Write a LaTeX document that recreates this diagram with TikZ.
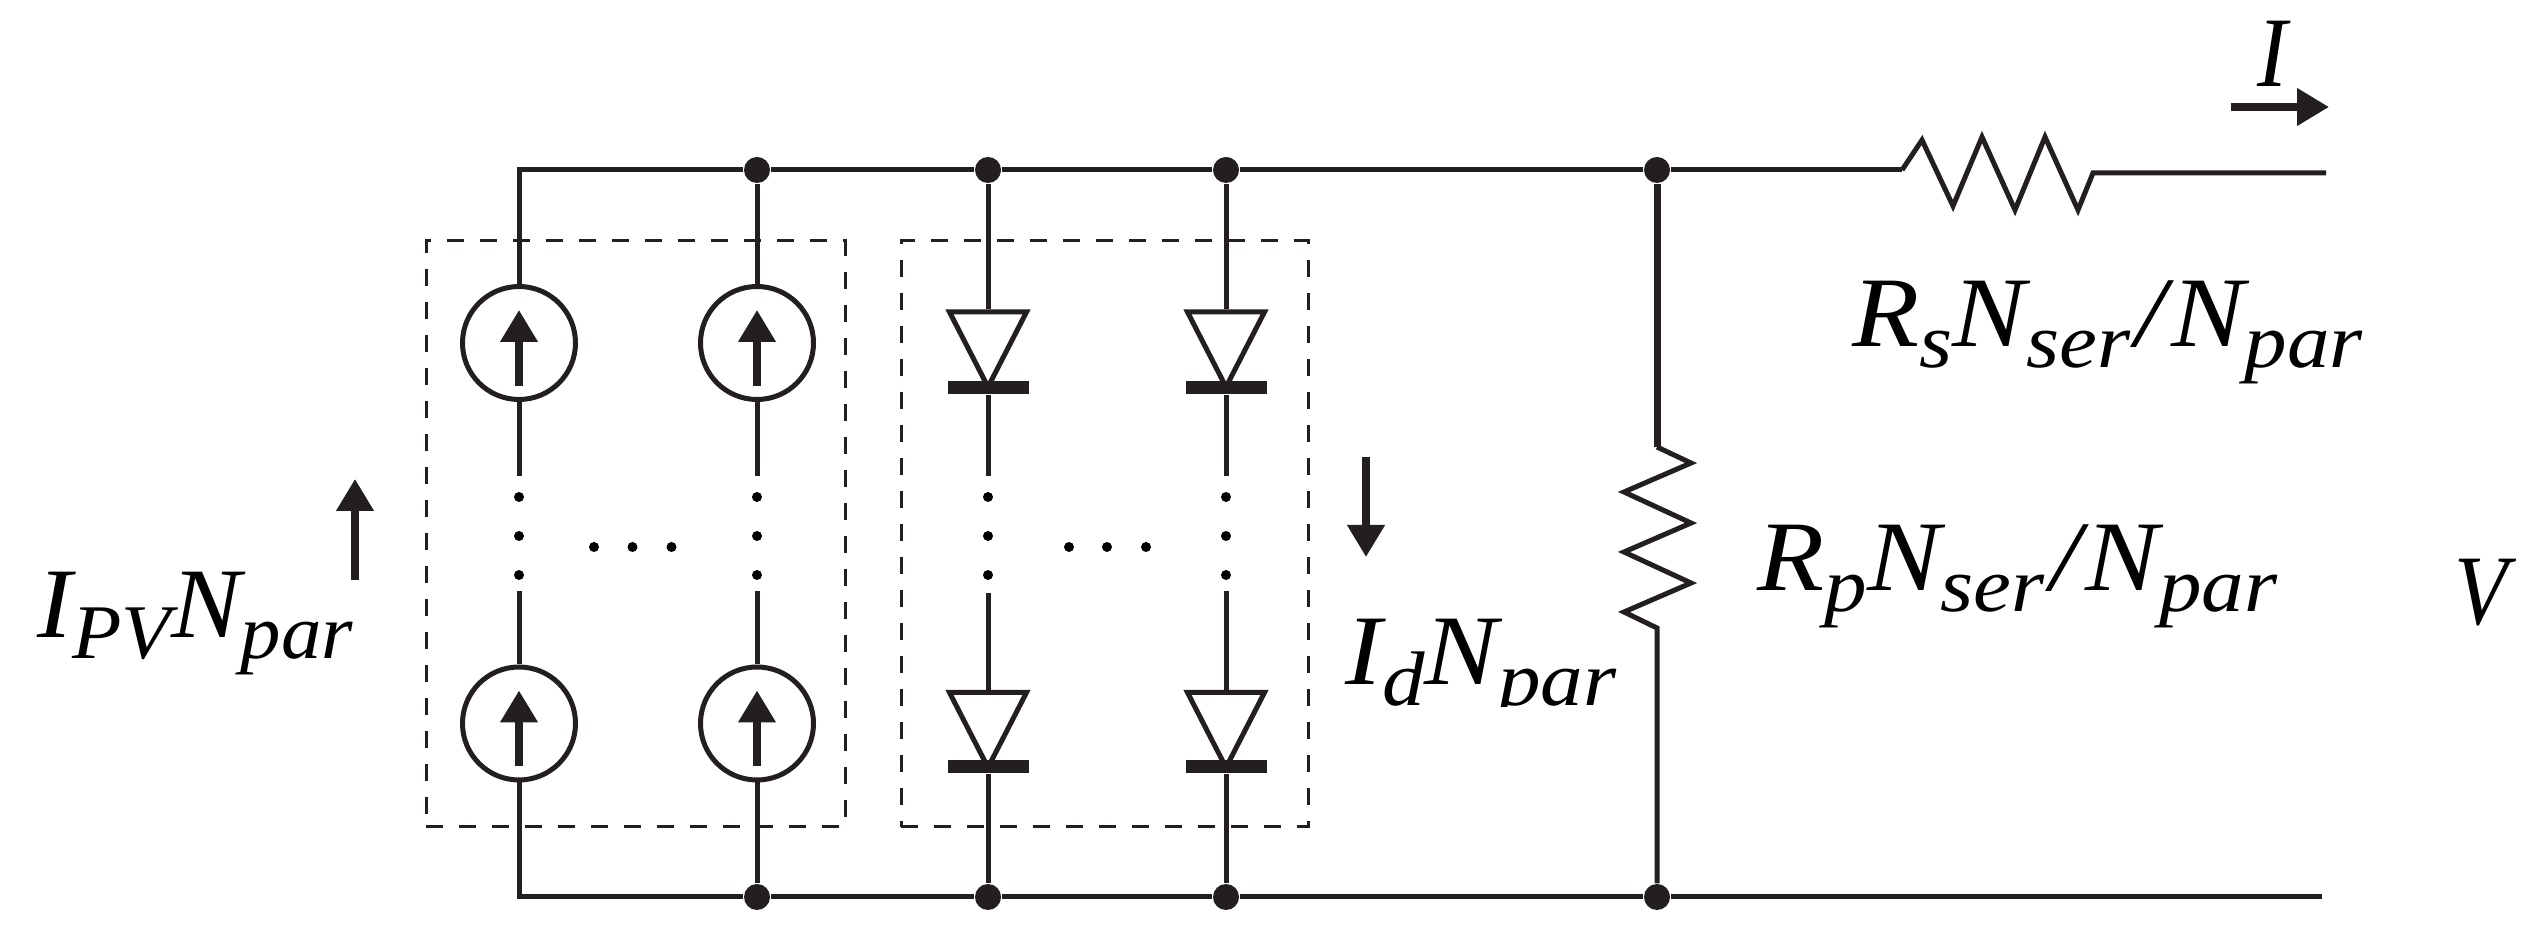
\documentclass[tikz,border=0pt]{standalone}
\usepackage{fontspec}
\setmainfont{Liberation Serif}
\usetikzlibrary{arrows.meta, shapes.geometric}
\definecolor{ink}{HTML}{231F20}
\newcommand{\lowsub}[1]{\raisebox{-0.21em}{\fontsize{22}{26}\selectfont #1}}
\tikzset{
  wire/.style={draw=ink, line width=0.05cm},
  curarrow/.style={draw=ink, fill=ink, line width=0.075cm, -{Triangle[length=0.32cm, width=0.36cm]}},
  pvsource/.style={wire, circle, minimum size=1.13cm, inner sep=0pt,
    path picture={\draw [curarrow, shift={(path picture bounding box.center)}] (0, -0.43) -- (0, 0.33);}},
  diodetri/.style={wire, isosceles triangle, isosceles triangle stretches, shape border rotate=270,
    minimum width=0.77cm, minimum height=0.75cm, inner sep=0pt, anchor=lower side},
  diodebar/.style={fill=ink, rectangle, minimum width=0.81cm, minimum height=0.13cm, inner sep=0pt},
  joint/.style={fill=ink, circle, minimum size=0.26cm, inner sep=0pt},
  dotmark/.style={fill=black, circle, minimum size=0.10cm, inner sep=0pt},
  groupbox/.style={draw=ink, line width=0.03cm, dash pattern=on 0.17cm off 0.16cm, minimum height=5.86cm, outer sep=0pt},
  formula/.style={transform shape, xscale=1.1, inner sep=0pt, anchor=base west,
    font=\fontsize{28.4}{34}\selectfont\itshape}
}
\begin{document}
\begin{tikzpicture}
      \useasboundingbox (0, 0) rectangle (25.42, 9.35);
      \node [groupbox, minimum width=4.19cm] (pvbox) at (6.355, 4.01) {};
      \node [groupbox, minimum width=4.07cm] (diodebox) at (11.045, 4.01) {};

      \node [pvsource] (pv1) at (5.19, 5.92) {};
      \node [pvsource] (pv2) at (7.57, 5.92) {};
      \node [pvsource] (pv3) at (5.19, 2.115) {};
      \node [pvsource] (pv4) at (7.57, 2.115) {};

      \node [diodetri] (tri1) at (9.88, 6.255) {};
      \node [diodetri] (tri2) at (12.26, 6.255) {};
      \node [diodetri] (tri3) at (9.88, 2.45) {};
      \node [diodetri] (tri4) at (12.26, 2.45) {};
      \node [diodebar] (bar1) at (9.88, 5.475) {};
      \node [diodebar] (bar2) at (12.26, 5.475) {};
      \node [diodebar] (bar3) at (9.88, 1.68) {};
      \node [diodebar] (bar4) at (12.26, 1.68) {};

      \node [joint] (top2) at (7.57, 7.65) {};
      \node [joint] (top3) at (9.88, 7.65) {};
      \node [joint] (top4) at (12.26, 7.65) {};
      \node [joint] (top5) at (16.57, 7.65) {};
      \node [joint] (bot2) at (7.57, 0.38) {};
      \node [joint] (bot3) at (9.88, 0.38) {};
      \node [joint] (bot4) at (12.26, 0.38) {};
      \node [joint] (bot5) at (16.57, 0.38) {};

      \coordinate (stub1) at (5.19, 4.59);
      \coordinate (stub2) at (7.57, 4.59);
      \coordinate (stub3) at (9.88, 4.59);
      \coordinate (stub4) at (12.26, 4.59);
      \coordinate (stub5) at (5.19, 3.44);
      \coordinate (stub6) at (7.57, 3.44);
      \coordinate (stub7) at (9.88, 3.42);
      \coordinate (stub8) at (12.26, 3.44);
      \coordinate (rsin) at (19.02, 7.65);
      \coordinate (rsout) at (20.93, 7.62);
      \coordinate (topout) at (23.26, 7.62);
      \coordinate (botout) at (23.22, 0.38);
      \coordinate (rpin) at (16.57, 4.88);
      \coordinate (rpout) at (16.57, 3.07);

      \draw [wire] (pv1.north) |- (top2) -- (top3) -- (top4) -- (top5) -- (rsin);
      \draw [wire] (pv3.south) |- (bot2) -- (bot3) -- (bot4) -- (bot5) -- (botout);
      \draw [wire] (top2) -- (pv2.north);
      \draw [wire] (top3) -- (tri1.lower side);
      \draw [wire] (top4) -- (tri2.lower side);
      \draw [wire] (pv1.south) -- (stub1);
      \draw [wire] (pv2.south) -- (stub2);
      \draw [wire] (bar1) -- (stub3);
      \draw [wire] (bar2) -- (stub4);
      \draw [wire] (stub5) -- (pv3.north);
      \draw [wire] (stub6) -- (pv4.north);
      \draw [wire] (stub7) -- (tri3.lower side);
      \draw [wire] (stub8) -- (tri4.lower side);
      \draw [wire] (pv4.south) -- (bot2);
      \draw [wire] (bar3) -- (bot3);
      \draw [wire] (bar4) -- (bot4);

      \draw [wire] (rsin) -- (19.22, 7.95) -- (19.53, 7.29) -- (19.82, 7.98) -- (20.15, 7.25)
        -- (20.45, 7.98) -- (20.78, 7.25) -- (rsout) -- (topout);
      \draw [wire, line width=0.07cm] (top5) -- (rpin);
      \draw [wire] (rpin) -- (16.91, 4.72) -- (16.24, 4.43) -- (16.91, 4.12) -- (16.24, 3.83)
        -- (16.91, 3.52) -- (16.24, 3.23) -- (rpout) -- (bot5);

      \node [dotmark] (col1a) at (5.19, 4.38) {}; \node [dotmark] (col1b) at (5.19, 3.99) {}; \node [dotmark] (col1c) at (5.19, 3.60) {};
      \node [dotmark] (col2a) at (7.57, 4.38) {}; \node [dotmark] (col2b) at (7.57, 3.99) {}; \node [dotmark] (col2c) at (7.57, 3.60) {};
      \node [dotmark] (col3a) at (9.88, 4.38) {}; \node [dotmark] (col3b) at (9.88, 3.99) {}; \node [dotmark] (col3c) at (9.88, 3.60) {};
      \node [dotmark] (col4a) at (12.26, 4.38) {}; \node [dotmark] (col4b) at (12.26, 3.99) {}; \node [dotmark] (col4c) at (12.26, 3.60) {};
      \node [dotmark] (row1a) at (5.94, 3.88) {}; \node [dotmark] (row1b) at (6.325, 3.88) {}; \node [dotmark] (row1c) at (6.715, 3.88) {};
      \node [dotmark] (row2a) at (10.69, 3.88) {}; \node [dotmark] (row2b) at (11.07, 3.88) {}; \node [dotmark] (row2c) at (11.46, 3.88) {};

      \coordinate (curia) at (22.31, 8.28);
      \coordinate (curib) at (23.29, 8.28);
      \coordinate (pvtail) at (3.55, 3.55);
      \coordinate (pvtip) at (3.55, 4.56);
      \coordinate (idtail) at (13.66, 4.78);
      \coordinate (idtip) at (13.66, 3.78);
      \draw [curarrow] (curia) -- (curib);
      \draw [curarrow] (pvtail) -- (pvtip);
      \draw [curarrow] (idtail) -- (idtip);

      \node [formula, xscale=0.82] (curi) at (22.57, 8.48) {I};
      \node [formula] (rslabel) at (18.52, 5.88) {R\lowsub{s}N\lowsub{ser}\kern0.05em/\kern0.05emN\lowsub{par}};
      \node [formula] (rplabel) at (17.57, 3.44) {R\lowsub{p}N\lowsub{ser}\kern0.05em/\kern0.05emN\lowsub{par}};
      \node [formula, xscale=0.95] (pvlabel) at (0.37, 2.97) {I\lowsub{PV}N\lowsub{par}};
      \node [formula, xscale=0.8] (vlabel) at (24.54, 3.10) {V};
      \begin{scope}
        \clip (13.3, 2.28) rectangle (16.3, 3.4);
        \node [formula] (idlabel) at (13.45, 2.50) {I\lowsub{d}N\lowsub{par}};
      \end{scope}
    \end{tikzpicture}
\end{document}
